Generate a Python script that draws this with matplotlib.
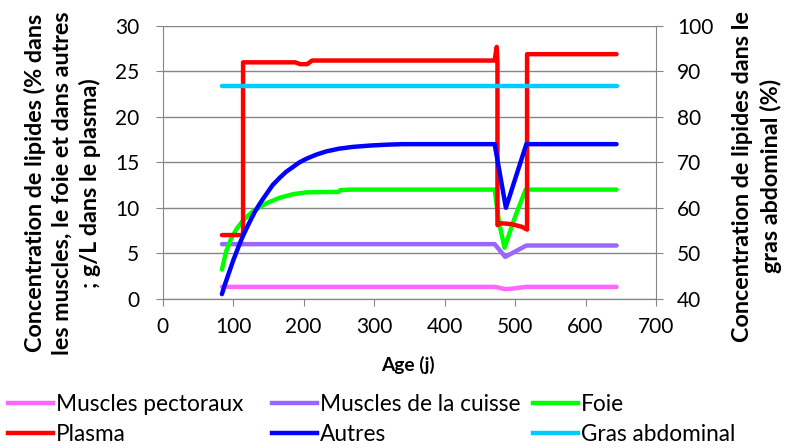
import matplotlib
matplotlib.use("Agg")
import matplotlib.pyplot as plt
from matplotlib.lines import Line2D

plt.rcParams['font.family'] = ['Lato', 'DejaVu Sans']

## data
age_pect = [84, 471, 480, 486, 495, 505, 516, 644]
pect = [1.3, 1.3, 1.15, 1.05, 1.1, 1.2, 1.3, 1.3]

age_cuisse = [84, 471, 486, 516, 644]
cuisse = [6.0, 6.0, 4.6, 5.85, 5.85]

age_foie = [84, 90, 97, 105, 115, 128, 147, 166, 185, 204, 250, 252, 268, 471, 477, 485, 500, 515, 644]
foie = [3.2, 5.2, 6.6, 7.7, 8.7, 9.6, 10.5, 11.1, 11.5, 11.7, 11.75, 11.95, 12.0, 12.0, 8.5, 5.6, 9.0, 12.0, 12.0]

age_plasma = [84, 114, 114, 188, 195, 205, 212, 220, 471, 474, 475, 475, 480, 495, 510, 517, 517, 644]
plasma = [7.0, 7.0, 26.0, 26.0, 25.8, 25.8, 26.2, 26.2, 26.2, 27.7, 26.0, 8.1, 8.3, 8.2, 7.9, 7.6, 26.9, 26.9]

age_autres = [84, 88, 92, 96, 100, 105, 110, 115, 120, 125, 131, 139, 147, 156, 166, 175, 185, 194,
              204, 218, 232, 250, 270, 295, 320, 340, 471, 487, 516, 644]
autres = [0.5, 1.5, 2.4, 3.3, 4.2, 5.2, 6.2, 7.1, 7.9, 8.7, 9.6, 10.6, 11.5, 12.5, 13.3, 13.95, 14.5, 15.0,
          15.4, 15.85, 16.2, 16.5, 16.7, 16.85, 16.95, 17.0, 17.0, 10.0, 17.0, 17.0]

age_gras = [84, 644]
gras = [86.8, 86.8]

c_pect = '#FF66FF'
c_cuisse = '#9966FF'
c_foie = '#00FF00'
c_plasma = '#FF0000'
c_autres = '#0000FF'
c_gras = '#00CCFF'
grey = '#868686'
lw = 3.2

fig = plt.figure(figsize=(7.88, 4.48), dpi=100)
ax = fig.add_axes([0.2065, 0.3333, 0.626, 0.6087])
ax2 = ax.twinx()

ax.plot(age_pect, pect, color=c_pect, lw=lw, solid_capstyle='round', zorder=3)
ax.plot(age_cuisse, cuisse, color=c_cuisse, lw=lw, solid_capstyle='round', zorder=3)
ax.plot(age_foie, foie, color=c_foie, lw=lw, solid_capstyle='round', zorder=3)
ax.plot(age_plasma, plasma, color=c_plasma, lw=lw, solid_capstyle='round', zorder=4)
ax.plot(age_autres, autres, color=c_autres, lw=lw, solid_capstyle='round', zorder=5)
ax2.plot(age_gras, gras, color=c_gras, lw=lw, solid_capstyle='round')

ax.set_xlim(0, 700)
ax.set_ylim(0, 30)
ax2.set_ylim(40, 100)
ax.set_xticks(range(0, 701, 100))
ax.set_yticks(range(0, 31, 5))
ax2.set_yticks(range(40, 101, 10))
ax.yaxis.grid(True, color=grey, lw=1.0)
ax.set_axisbelow(True)

for a in (ax, ax2):
    for s in a.spines.values():
        s.set_color(grey)
    a.spines['top'].set_visible(False)
    a.tick_params(colors=grey, labelcolor='black', labelsize=15, length=5, direction='out')
ax.spines['right'].set_visible(False)
ax2.spines['left'].set_visible(False)
ax.tick_params(axis='y', pad=12)
ax.tick_params(axis='x', pad=8)
ax2.tick_params(axis='y', pad=10)

ax.set_xlabel('Age (j)', fontsize=13.8, fontweight='bold')
ax.xaxis.set_label_coords(0.498, -0.21)
ax.set_ylabel('Concentration de lipides (% dans\nles muscles, le foie et dans autres\n; g/L dans le plasma)',
              fontsize=16.8, fontweight='bold', linespacing=1.35)
ax.yaxis.set_label_coords(-0.125, 0.424)
ax2.set_ylabel('Concentration de lipides dans le\ngras abdominal (%)',
               fontsize=16.8, fontweight='bold', linespacing=1.35)
ax2.yaxis.set_label_coords(1.155, 0.449)

## legend: three columns placed like the reference
cols = [((c_pect, c_plasma), ('Muscles pectoraux', 'Plasma'), 8),
        ((c_cuisse, c_autres), ('Muscles de la cuisse', 'Autres'), 272),
        ((c_foie, c_gras), ('Foie', 'Gras abdominal'), 533)]
for colors, labs, xpix in cols:
    hs = [Line2D([], [], color=c, lw=lw) for c in colors]
    leg = fig.legend(hs, labs, loc='center left', bbox_to_anchor=(xpix / 788, 1 - 419.5 / 448),
                     frameon=False, fontsize=16.3, handlelength=2.0, handletextpad=0.13,
                     labelspacing=0.38, borderpad=0, borderaxespad=0)

fig.savefig('out.png', dpi=100)
